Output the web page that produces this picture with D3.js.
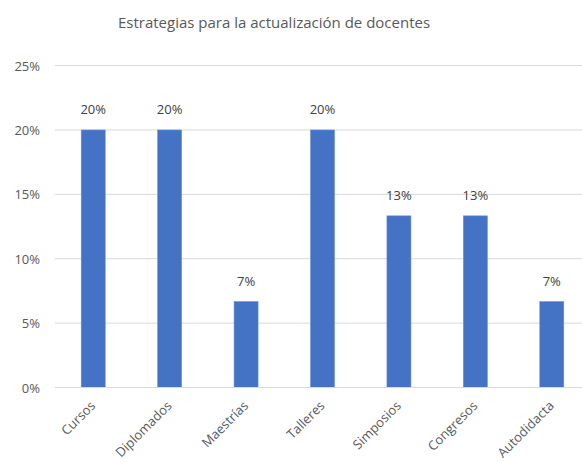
<!DOCTYPE html>
<html>
<head>
<meta charset="utf-8">
<script src="https://cdn.jsdelivr.net/npm/d3@7"></script>
<style>
  html, body { margin: 0; padding: 0; background: #fff; }
  svg text { font-family: "Open Sans", "Noto Sans", sans-serif; }
</style>
</head>
<body>
<svg id="chart" width="582" height="462"></svg>
<script>
const categories = ["Cursos", "Diplomados", "Maestrías", "Talleres", "Simposios", "Congresos", "Autodidacta"];
const values = [0.20, 0.20, 0.0667, 0.20, 0.1333, 0.1333, 0.0667];
const yTicks = [0, 0.05, 0.10, 0.15, 0.20, 0.25];
const title = "Estrategias para la actualización de docentes";

const svg = d3.select("#chart");
const plot = { left: 55, right: 590, top: 65.6, bottom: 387.5 };

const x = d3.scaleBand().domain(categories).range([plot.left, plot.right]).paddingInner(0.686).paddingOuter(0.343);
const y = d3.scaleLinear().domain([0, 0.25]).range([plot.bottom, plot.top]);
const pct = d3.format(".0%");

// title
svg.append("text")
  .attr("x", 274).attr("y", 28)
  .attr("text-anchor", "middle")
  .attr("font-size", 15)
  .attr("fill", "#595959")
  .text(title);

// horizontal gridlines
svg.append("g")
  .selectAll("line")
  .data(yTicks)
  .join("line")
  .attr("x1", plot.left).attr("x2", plot.right)
  .attr("y1", d => y(d)).attr("y2", d => y(d))
  .attr("stroke", "#d9d9d9").attr("stroke-width", 1);

// y axis labels
const yAxis = d3.axisLeft(y).tickValues(yTicks).tickFormat(pct).tickSize(0).tickPadding(0);
svg.append("g")
  .attr("transform", `translate(${plot.left - 15},0)`)
  .call(yAxis)
  .call(g => g.select(".domain").remove())
  .call(g => g.selectAll("text")
    .attr("font-size", 13)
    .attr("fill", "#595959")
    .attr("font-family", "\"Open Sans\", sans-serif")
    .attr("dy", "0.35em"));

// bars
svg.append("g")
  .selectAll("rect")
  .data(values)
  .join("rect")
  .attr("x", (d, i) => x(categories[i]))
  .attr("y", d => y(d))
  .attr("width", x.bandwidth())
  .attr("height", d => y(0) - y(d))
  .attr("fill", "#4472c4")
  .attr("stroke", "#6a8fd4").attr("stroke-width", 0.6);

// axis baseline
svg.append("line")
  .attr("x1", plot.left).attr("x2", plot.right)
  .attr("y1", y(0)).attr("y2", y(0))
  .attr("stroke", "#d9d9d9").attr("stroke-width", 1.2);

// value labels
svg.append("g")
  .selectAll("text")
  .data(values)
  .join("text")
  .attr("x", (d, i) => x(categories[i]) + x.bandwidth() / 2)
  .attr("y", d => y(d) - 16)
  .attr("text-anchor", "middle")
  .attr("font-size", 13)
  .attr("fill", "#404040")
  .text(d => pct(d));

// category labels, rotated
const xAxis = d3.axisBottom(x).tickSize(0).tickPadding(0);
svg.append("g")
  .attr("transform", `translate(0,${plot.bottom})`)
  .call(xAxis)
  .call(g => g.select(".domain").remove())
  .call(g => g.selectAll(".tick text")
    .attr("font-size", 13)
    .attr("fill", "#595959")
    .attr("font-family", "\"Open Sans\", sans-serif")
    .attr("text-anchor", "end")
    .attr("dy", 0)
    .attr("transform", "translate(3,19) rotate(-45)"));
</script>
</body>
</html>
